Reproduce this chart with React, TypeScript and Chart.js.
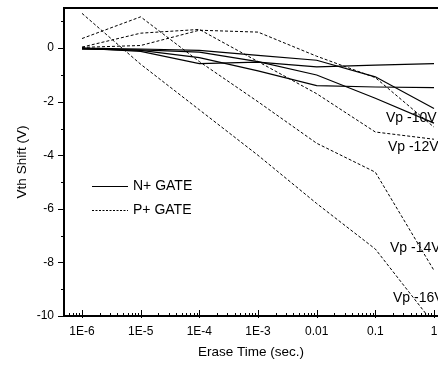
import React, { useEffect, useRef } from 'react';
import { Chart, registerables } from 'chart.js';

Chart.register(...registerables);

// ---- data ----
const eraseTimes = [1e-6, 1e-5, 1e-4, 1e-3, 1e-2, 1e-1, 1];
const xTickLabels = ['1E-6', '1E-5', '1E-4', '1E-3', '0.01', '0.1', '1'];
const yTickValues = [-10, -8, -6, -4, -2, 0];
const yMinorTickValues = [-9, -7, -5, -3, -1, 1];

// N+ GATE (solid)
const nGateVp10 = [0, -0.12, -0.58, -0.52, -0.7, -0.63, -0.58];
const nGateVp12 = [-0.02, -0.08, -0.35, -0.85, -1.4, -1.45, -1.47];
const nGateVp14 = [0, -0.03, -0.08, -0.27, -0.45, -1.07, -2.25];
const nGateVp16 = [-0.04, -0.06, -0.15, -0.5, -1.0, -1.87, -2.8];

// P+ GATE (dashed)
const pGateVp10 = [0.03, 0.1, 0.67, 0.6, -0.3, -1.1, -2.95];
const pGateVp12 = [0.04, 0.56, 0.7, -0.5, -1.7, -3.13, -3.4];
const pGateVp14 = [0.36, 1.17, -0.5, -2.0, -3.55, -4.63, -8.3];
const pGateVp16 = [1.3, -0.6, -2.3, -4.0, -5.8, -7.5, -10.3];

const curveLabels = ['Vp -10V', 'Vp -12V', 'Vp -14V', 'Vp -16V'];
const curveLabelTimes = [0.152, 0.164, 0.178, 0.2];
const curveLabelValues = [-2.6, -3.7, -7.45, -9.34];

const legendLabels = ['N+ GATE', 'P+ GATE'];

const FONT = "'Liberation Sans', Arial, Helvetica, sans-serif";

export default function App() {
  const ref = useRef<HTMLCanvasElement>(null);

  useEffect(() => {
    const canvas = ref.current;
    if (!canvas) return;

    const series = (vals: number[]) => eraseTimes.map((t, i) => ({ x: t, y: vals[i] }));
    const solid = (vals: number[]) => ({
      data: series(vals),
      borderColor: '#000',
      borderWidth: 1.2,
      pointRadius: 0,
      fill: false,
      tension: 0,
    });
    const dashed = (vals: number[]) => ({
      data: series(vals),
      borderColor: '#000',
      borderWidth: 1,
      borderDash: [3, 2],
      pointRadius: 0,
      fill: false,
      tension: 0,
    });

    const decor = {
      id: 'decor',
      afterDraw(chart: any) {
        const { ctx, chartArea: a, scales } = chart;
        const x = scales.x;
        const y = scales.y;
        ctx.save();
        ctx.strokeStyle = '#000';
        ctx.lineWidth = 2;
        ctx.beginPath();
        ctx.moveTo(a.left, a.top);
        ctx.lineTo(a.right + 2, a.top);
        ctx.moveTo(a.left, a.top - 1);
        ctx.lineTo(a.left, a.bottom + 1);
        ctx.moveTo(a.left - 1, a.bottom);
        ctx.lineTo(a.right + 2, a.bottom);
        ctx.stroke();

        ctx.lineWidth = 1;
        ctx.beginPath();
        // y ticks (outward)
        yTickValues.forEach((v) => {
          const py = Math.round(y.getPixelForValue(v)) + 0.5;
          ctx.moveTo(a.left - 6, py);
          ctx.lineTo(a.left, py);
        });
        yMinorTickValues.forEach((v) => {
          const py = Math.round(y.getPixelForValue(v)) + 0.5;
          ctx.moveTo(a.left - 3, py);
          ctx.lineTo(a.left, py);
        });
        // x ticks (inward)
        const lo = Math.floor(Math.log10(x.min));
        const hi = Math.ceil(Math.log10(x.max));
        for (let d = lo; d <= hi; d++) {
          for (let m = 1; m <= 9; m++) {
            const v = m * Math.pow(10, d);
            if (v < x.min || v > x.max) continue;
            const px = Math.round(x.getPixelForValue(v)) + 0.5;
            if (m === 1) {
              ctx.moveTo(px, a.bottom + 2);
              ctx.lineTo(px, a.bottom - 6);
            } else {
              ctx.moveTo(px, a.bottom);
              ctx.lineTo(px, a.bottom - 3);
            }
          }
        }
        ctx.stroke();

        // curve labels
        ctx.fillStyle = '#000';
        ctx.font = `14px ${FONT}`;
        ctx.textAlign = 'left';
        ctx.textBaseline = 'middle';
        curveLabels.forEach((t, i) => {
          ctx.fillText(t, x.getPixelForValue(curveLabelTimes[i]), y.getPixelForValue(curveLabelValues[i]));
        });

        // legend
        const lx = a.left + 28;
        const ly = a.top + 178;
        const gap = 24;
        legendLabels.forEach((t, i) => {
          const yy = Math.round(ly + i * gap) + 0.5;
          ctx.beginPath();
          ctx.lineWidth = i === 0 ? 1.2 : 1;
          ctx.setLineDash(i === 0 ? [] : [2, 1.5]);
          ctx.moveTo(lx, yy);
          ctx.lineTo(lx + 36, yy);
          ctx.stroke();
          ctx.setLineDash([]);
          ctx.fillText(t, lx + 41, yy);
        });
        ctx.restore();
      },
    };

    const chart = new Chart(canvas, {
      type: 'line',
      data: {
        datasets: [
          solid(nGateVp10),
          solid(nGateVp12),
          solid(nGateVp14),
          solid(nGateVp16),
          dashed(pGateVp10),
          dashed(pGateVp12),
          dashed(pGateVp14),
          dashed(pGateVp16),
        ],
      },
      options: {
        animation: false,
        responsive: false,
        devicePixelRatio: 1,
        layout: { padding: { top: 8, left: 0, right: 0, bottom: 0 } },
        plugins: { legend: { display: false }, tooltip: { enabled: false } },
        scales: {
          x: {
            type: 'logarithmic',
            min: Math.pow(10, -6.3068),
            max: Math.pow(10, 0.0682),
            grid: { display: false, drawTicks: false },
            border: { display: false },
            afterBuildTicks: (scale: any) => {
              scale.ticks = eraseTimes.map((v) => ({ value: v }));
            },
            afterFit: (scale: any) => {
              scale.height = 50;
              scale.paddingLeft = 0;
              scale.paddingRight = 0;
            },
            ticks: {
              autoSkip: false,
              maxRotation: 0,
              minRotation: 0,
              padding: 8,
              color: '#000',
              font: { family: FONT, size: 12 },
              callback: (_v: any, i: number) => xTickLabels[i],
            },
            title: {
              display: true,
              text: 'Erase Time (sec.)',
              color: '#000',
              font: { family: FONT, size: 13.5 },
              padding: { top: 0, bottom: 6 },
            },
          },
          y: {
            type: 'linear',
            min: -10,
            max: 1.5,
            grid: { display: false, drawTicks: false },
            border: { display: false },
            afterBuildTicks: (scale: any) => {
              scale.ticks = yTickValues.map((v) => ({ value: v }));
            },
            afterFit: (scale: any) => {
              scale.width = 64;
              scale.paddingTop = 0;
              scale.paddingBottom = 0;
            },
            ticks: {
              autoSkip: false,
              padding: 10,
              color: '#000',
              font: { family: FONT, size: 12 },
              callback: (v: any) => String(v),
            },
            title: {
              display: true,
              text: 'Vth Shift (V)',
              color: '#000',
              font: { family: FONT, size: 13.5 },
              padding: { top: 14, bottom: 0 },
            },
          },
        },
      },
      plugins: [decor],
    } as any);

    return () => chart.destroy();
  }, []);

  return (
    <div style={{ position: 'absolute', left: 0, top: 0, width: 438, height: 366, background: '#fff' }}>
      <canvas ref={ref} width={438} height={366} style={{ display: 'block' }} />
    </div>
  );
}
